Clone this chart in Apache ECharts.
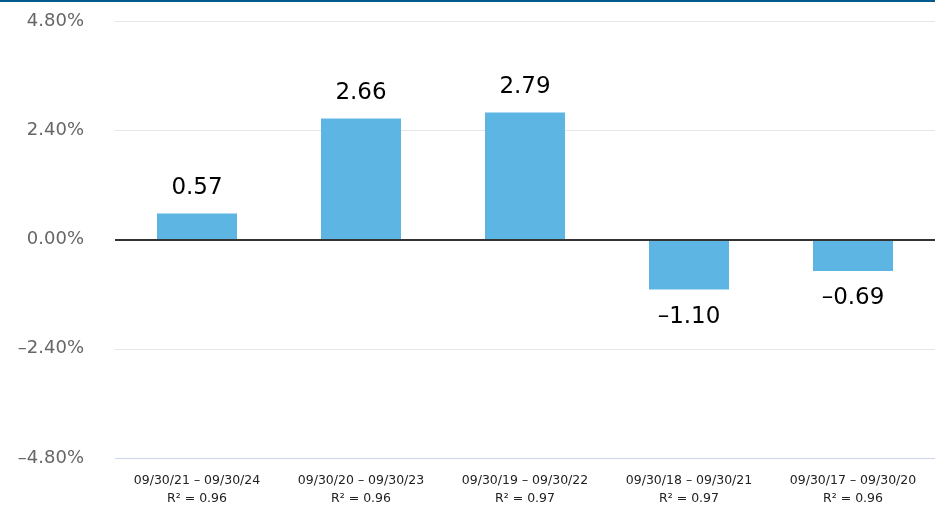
<!DOCTYPE html>
<html>
  <head>
    <meta charset="UTF-8" />
    <title>Rolling returns</title>
    <script src="https://cdn.jsdelivr.net/npm/echarts@6/dist/echarts.min.js"></script>
    <style>
      html, body { margin: 0; padding: 0; background: #fff; overflow: hidden; }
    </style>
  </head>
  <body>
    <div id="chart" style="width: 935px; height: 508px"></div>
    <script>
      var periods = [
        "09/30/21 – 09/30/24",
        "09/30/20 – 09/30/23",
        "09/30/19 – 09/30/22",
        "09/30/18 – 09/30/21",
        "09/30/17 – 09/30/20",
      ];
      var rSquared = ["0.96", "0.96", "0.97", "0.97", "0.96"];
      var values = [0.57, 2.66, 2.79, -1.1, -0.69];

      var fontFamily = "DejaVu Sans, Verdana, sans-serif";

      var categories = [];
      for (var i = 0; i < periods.length; i++) {
        categories.push(periods[i] + "\nR² = " + rSquared[i]);
      }

      var barData = [];
      for (var j = 0; j < values.length; j++) {
        var neg = values[j] < 0;
        barData.push({
          value: values[j],
          label: {
            position: neg ? "bottom" : "top",
            distance: neg ? 16 : 14,
          },
        });
      }

      // en dash as minus, like the original
      function minus(s) {
        return s.replace("-", "\u2013");
      }

      var option = {
        animation: false,
        backgroundColor: "#ffffff",
        graphic: [
          {
            type: "rect",
            left: 0,
            top: 0,
            z: 100,
            shape: { width: 935, height: 2 },
            style: { fill: "#005a8c" },
          },
        ],
        grid: { left: 115, right: -12, top: 21, bottom: 48 },
        xAxis: {
          type: "category",
          data: categories,
          axisLine: { show: false },
          axisTick: { show: false },
          axisLabel: {
            interval: 0,
            color: "#222",
            fontSize: 12.5,
            lineHeight: 18,
            margin: 14,
            fontFamily: fontFamily,
          },
        },
        yAxis: {
          type: "value",
          min: -4.8,
          max: 4.8,
          interval: 2.4,
          axisLine: { show: false },
          axisTick: { show: false },
          axisLabel: {
            color: "#666",
            fontSize: 18,
            margin: 31,
            fontFamily: fontFamily,
            formatter: function (v) {
              return minus(v.toFixed(2) + "%");
            },
          },
          splitLine: {
            lineStyle: {
              color: ["#ccd6eb", "#e6e6e6", "#333333", "#e6e6e6", "#e6e6e6"],
              width: 1,
            },
          },
        },
        series: [
          {
            type: "bar",
            data: barData,
            barWidth: 80,
            itemStyle: { color: "#5db5e4" },
            label: {
              show: true,
              color: "#000",
              fontSize: 23,
              fontFamily: fontFamily,
              formatter: function (p) {
                return minus(p.value.toFixed(2));
              },
            },
            z: 2,
          },
          {
            type: "line",
            data: [],
            markLine: {
              silent: true,
              symbol: "none",
              label: { show: false },
              lineStyle: { color: "#333", width: 2, type: "solid" },
              data: [{ yAxis: 0 }],
            },
            z: 3,
          },
        ],
      };

      var myChart = echarts.init(document.getElementById("chart"));
      myChart.setOption(option);
    </script>
  </body>
</html>
